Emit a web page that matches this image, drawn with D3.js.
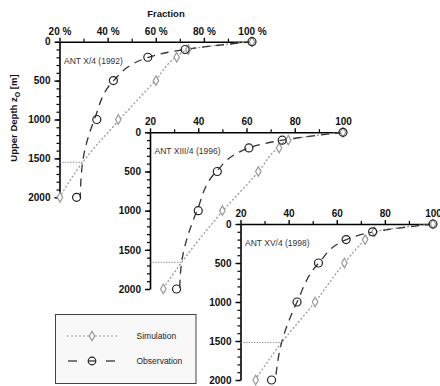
<!DOCTYPE html>
<html>
<head>
<meta charset="utf-8">
<script src="https://cdn.jsdelivr.net/npm/d3@7/dist/d3.min.js"></script>
<style>
  body { margin: 0; background: #fff; }
  svg { display: block; font-family: "Liberation Sans", Arial, sans-serif; }
</style>
</head>
<body>
<svg id="chart" width="440" height="386"></svg>
<script>
// measured depths (m) for the markers
const depths = [0, 100, 200, 500, 1000, 2000];

// cruise labels
const cruises = ['ANT X/4 (1992)', 'ANT XIII/4 (1996)', 'ANT XV/4 (1998)'];

// marker values (%)
const obs1992 = [100, 72.2, 56.7, 42.4, 35.5, 27.1];
const sim1992 = [100, 73.5, 68.7, 60.1, 44.4, 20.2];
const obs1996 = [100, 74.8, 61.0, 47.9, 40.0, 31.0];
const sim1996 = [100, 77.3, 73.5, 64.9, 50.0, 25.5];
const obs1998 = [100, 74.9, 63.9, 52.4, 43.5, 32.9];
const sim1998 = [100, 75.7, 71.8, 63.2, 51.0, 26.3];

// fitted curves
const fitDepth1992 = [0, 100, 200, 500, 1000, 1550, 2000];
const fitObs1992 = [100, 72, 57, 42.5, 34.5, 29.6, 28.6];
const fitSim1992 = [100, 74, 68.5, 59.8, 45, 29.6, 20];
const fitDepth1996 = [0, 100, 200, 500, 1000, 1660, 2000];
const fitObs1996 = [100, 75, 61, 47.5, 39.5, 33.1, 32.3];
const fitSim1996 = [100, 77.5, 73, 65, 50.3, 33.1, 25.3];
const fitDepth1998 = [0, 100, 200, 500, 1000, 1520, 2000];
const fitObs1998 = [100, 75.5, 64, 52.5, 43.5, 37.1, 34.5];
const fitSim1998 = [100, 76, 72, 63.2, 51, 37.1, 26];

// depth where the two curves cross
const crossDepth = [1550, 1660, 1520];

// ticks
const xTicks = [20, 40, 60, 80, 100];
const xMinor = [30, 50, 70, 90];
const xTickLabels1 = ['20 %', '40 %', '60 %', '80 %', '100 %'];
const xTickLabels = ['20', '40', '60', '80', '100'];
const yTicks = [0, 500, 1000, 1500, 2000];
const yMinor = d3.range(0, 2001, 100);

const svg = d3.select('#chart');

// panel boxes in pixels
const panels = [
  { x0: 59.5, x1: 252, y0: 41.7, y1: 197.3, obs: obs1992, sim: sim1992, fd: fitDepth1992, fo: fitObs1992, fs: fitSim1992, labels: xTickLabels1 },
  { x0: 150, x1: 343, y0: 132.3, y1: 289, obs: obs1996, sim: sim1996, fd: fitDepth1996, fo: fitObs1996, fs: fitSim1996, labels: xTickLabels },
  { x0: 240.5, x1: 433, y0: 224, y1: 380, obs: obs1998, sim: sim1998, fd: fitDepth1998, fo: fitObs1998, fs: fitSim1998, labels: xTickLabels }
];

const diamond = d3.symbol().type(d3.symbolDiamond).size(26);

panels.forEach((p, i) => {
  const x = d3.scaleLinear().domain([20, 100]).range([p.x0, p.x1]);
  const y = d3.scaleLinear().domain([0, 2000]).range([p.y0, p.y1]);
  const g = svg.append('g');

  // minor ticks
  g.append('g')
    .attr('transform', `translate(0,${p.y0})`)
    .call(d3.axisTop(x).tickValues(xMinor).tickSize(3).tickFormat('').tickSizeOuter(0))
    .call(a => a.select('.domain').remove())
    .selectAll('line').attr('stroke-width', 1.2);
  g.append('g')
    .attr('transform', `translate(${p.x0},0)`)
    .call(d3.axisLeft(y).tickValues(yMinor).tickSize(3).tickFormat('').tickSizeOuter(0))
    .call(a => a.select('.domain').remove())
    .selectAll('line').attr('stroke-width', 1.2);

  // major axes
  const xa = g.append('g')
    .attr('transform', `translate(0,${p.y0})`)
    .call(d3.axisTop(x).tickValues(xTicks).tickSize(4).tickSizeOuter(0).tickPadding(3)
      .tickFormat((d, k) => p.labels[k]));
  const ya = g.append('g')
    .attr('transform', `translate(${p.x0},0)`)
    .call(d3.axisLeft(y).tickValues(yTicks).tickSize(5).tickSizeOuter(0).tickPadding(4)
      .tickFormat(d3.format('d')));
  [xa, ya].forEach(a => {
    a.select('.domain').attr('stroke-width', 1.6);
    a.selectAll('line').attr('stroke-width', 1.4);
    a.selectAll('text').attr('font-size', 10).attr('font-weight', 'bold').attr('fill', '#111');
  });

  // crossing marker
  g.append('line')
    .attr('x1', p.x0).attr('x2', x(p.fo[p.fd.indexOf(crossDepth[i])]))
    .attr('y1', y(crossDepth[i])).attr('y2', y(crossDepth[i]))
    .attr('stroke', '#777').attr('stroke-width', 0.8).attr('stroke-dasharray', '1.5,1.2');

  const line = d3.line().curve(d3.curveMonotoneY);

  g.append('path')
    .attr('d', line(p.fd.map((d, k) => [x(p.fs[k]), y(d)])))
    .attr('fill', 'none').attr('stroke', '#999').attr('stroke-width', 1.3)
    .attr('stroke-dasharray', '2,2');
  g.append('path')
    .attr('d', line(p.fd.map((d, k) => [x(p.fo[k]), y(d)])))
    .attr('fill', 'none').attr('stroke', '#333').attr('stroke-width', 1.3)
    .attr('stroke-dasharray', '8,6');

  g.selectAll('.sim').data(depths).join('path')
    .attr('transform', (d, k) => `translate(${x(p.sim[k])},${y(d)})`)
    .attr('d', diamond)
    .attr('fill', '#fff').attr('stroke', '#999').attr('stroke-width', 1.2);
  g.selectAll('.obs').data(depths).join('circle')
    .attr('cx', (d, k) => x(p.obs[k])).attr('cy', d => y(d)).attr('r', 4)
    .attr('fill', 'none').attr('stroke', '#222').attr('stroke-width', 1.2);

  g.append('text')
    .attr('x', p.x0 + 4.5).attr('y', p.y0 + 22)
    .attr('font-size', 8.5).attr('fill', '#333')
    .text(cruises[i]);
});

// titles
svg.append('text')
  .attr('x', 166).attr('y', 16.5).attr('text-anchor', 'middle')
  .attr('font-size', 9.5).attr('font-weight', 'bold').attr('fill', '#111')
  .text('Fraction');

const yl = svg.append('text')
  .attr('transform', 'translate(17,118) rotate(-90)')
  .attr('text-anchor', 'middle')
  .attr('font-size', 9.5).attr('font-weight', 'bold').attr('fill', '#111');
yl.append('tspan').text('Upper Depth z');
yl.append('tspan').attr('font-size', 7).attr('dy', 2.5).text('O');
yl.append('tspan').attr('dy', -2.5).text(' [m]');

// legend
const lg = svg.append('g');
lg.append('rect')
  .attr('x', 55.5).attr('y', 314.5).attr('width', 140.5).attr('height', 69)
  .attr('fill', '#f8f8f8').attr('stroke', '#444').attr('stroke-width', 1);
lg.append('line')
  .attr('x1', 67).attr('x2', 117).attr('y1', 336).attr('y2', 336)
  .attr('stroke', '#999').attr('stroke-width', 1.2).attr('stroke-dasharray', '2,2');
lg.append('path')
  .attr('transform', 'translate(92,336)').attr('d', diamond)
  .attr('fill', '#f8f8f8').attr('stroke', '#999').attr('stroke-width', 1.2);
[[68, 77], [88.5, 95.5], [106, 115]].forEach(([a, b]) => {
  lg.append('line')
    .attr('x1', a).attr('x2', b).attr('y1', 361).attr('y2', 361)
    .attr('stroke', '#333').attr('stroke-width', 1.3);
});
lg.append('circle')
  .attr('cx', 92).attr('cy', 361).attr('r', 3.8)
  .attr('fill', 'none').attr('stroke', '#222').attr('stroke-width', 1.2);
lg.selectAll('.lt').data(['Simulation', 'Observation']).join('text')
  .attr('x', 136.5).attr('y', (d, k) => 339 + k * 25)
  .attr('font-size', 8.5).attr('fill', '#222')
  .text(d => d);
</script>
</body>
</html>
